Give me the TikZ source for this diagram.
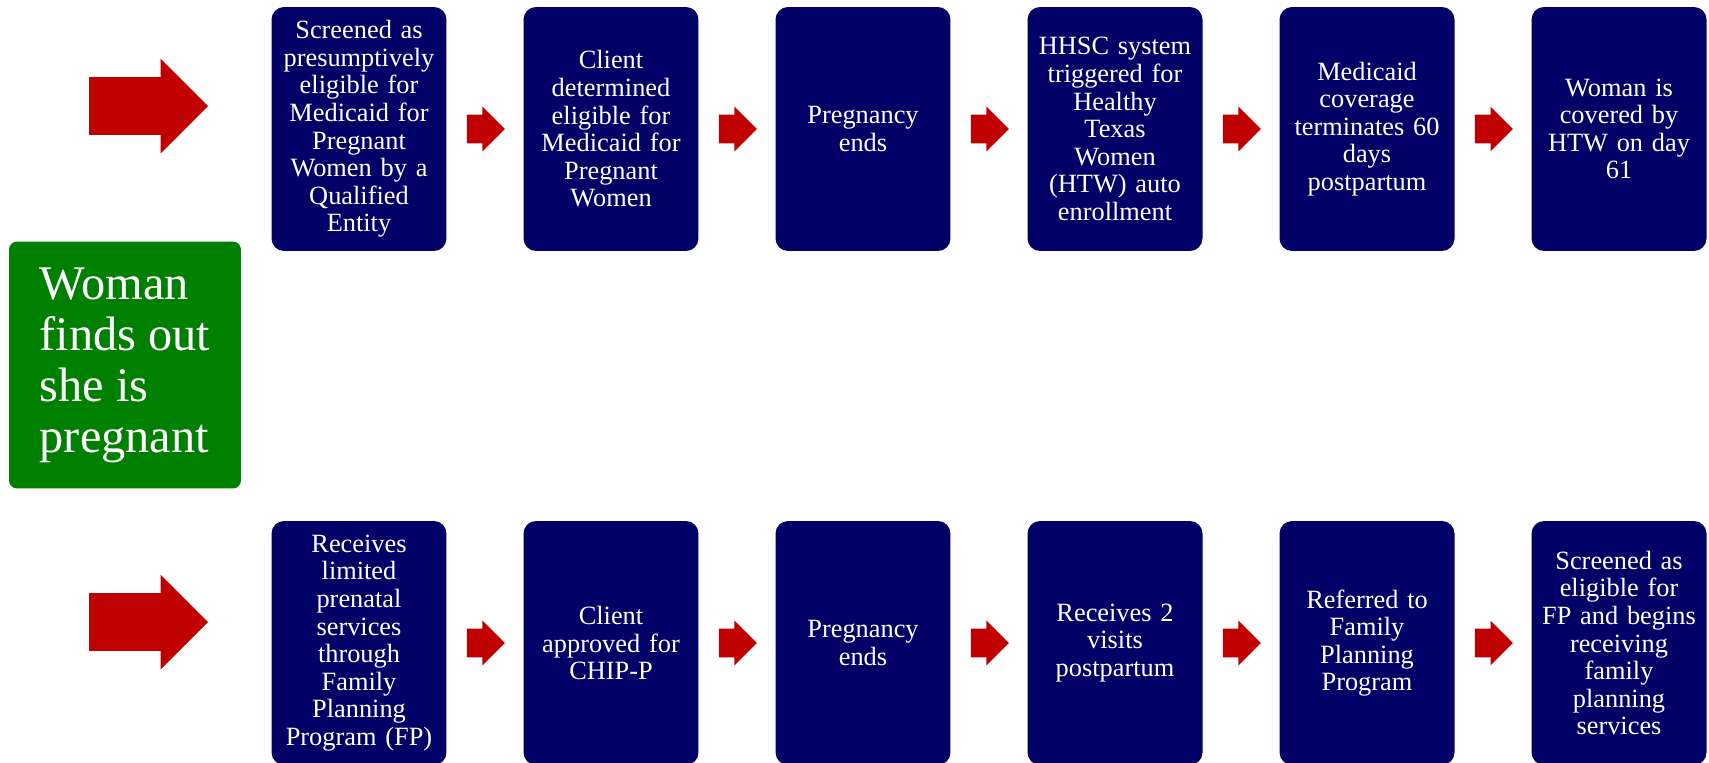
\documentclass[tikz,border=0pt]{standalone}
\usepackage{fontspec}
\setmainfont{Liberation Serif}
\usepackage{tikz}
\usetikzlibrary{
  shapes.arrows,
  calc
}

\definecolor{navybox}{RGB}{0,0,102}
\definecolor{arrowred}{RGB}{192,0,0}
\definecolor{startgreen}{RGB}{0,128,0}

\begin{document}
\begin{tikzpicture}[
  x=0.02cm, y=-0.02cm,
  % Node styles
  stepbox/.style={
    rectangle,
    fill=navybox,
    text=white,
    rounded corners=0.25cm,
    minimum width=3.5cm,
    minimum height=4.88cm,
    text width=3.3cm,
    inner sep=0pt,
    align=center,
    font={\fontsize{15}{15.7}\selectfont},
  },
  startbox/.style={
    rectangle,
    fill=startgreen,
    text=white,
    rounded corners=0.16cm,
    minimum width=4.64cm,
    minimum height=4.94cm,
    inner sep=0pt,
    align=left,
    font={\fontsize{27.5}{29}\selectfont},
  },
  bigarrow/.style={
    single arrow,
    fill=arrowred,
    anchor=tip,
    minimum height=2.38cm,
    single arrow head extend=0.37cm,
    inner xsep=0pt,
    inner ysep=0.57cm,
    outer sep=0pt,
  },
  smallarrow/.style={
    single arrow,
    fill=arrowred,
    anchor=tail,
    minimum height=0.76cm,
    single arrow head extend=0.16cm,
    inner xsep=0pt,
    inner ysep=0.28cm,
    outer sep=0pt,
  },
]
\useasboundingbox (0,0) rectangle (1709,762);

% ── Start ──
\node[startbox] (start) at (125,365) {Woman\\finds out\\she is\\pregnant};
\node[bigarrow] (topstart) at (208,106) {};
\node[bigarrow] (botstart) at (208,622) {};

% ── Row 1: Medicaid path ──
\node[stepbox] (t1) at (359,129) {Screened as\\presumptively\\eligible for\\Medicaid for\\Pregnant\\Women by a\\Qualified\\Entity};
\node[stepbox] (t2) at (611,129) {Client\\determined\\eligible for\\Medicaid for\\Pregnant\\Women};
\node[stepbox] (t3) at (863,129) {Pregnancy\\ends};
\node[stepbox] (t4) at (1115,129) {HHSC system\\triggered for\\Healthy\\Texas\\Women\\(HTW) auto\\enrollment};
\node[stepbox] (t5) at (1367,129) {Medicaid\\coverage\\terminates 60\\days\\postpartum};
\node[stepbox] (t6) at (1619,129) {Woman is\\covered by\\HTW on day\\61};

% ── Row 2: CHIP-P path ──
\node[stepbox] (b1) at (359,643) {Receives\\limited\\prenatal\\services\\through\\Family\\Planning\\Program (FP)};
\node[stepbox] (b2) at (611,643) {Client\\approved for\\CHIP-P};
\node[stepbox] (b3) at (863,643) {Pregnancy\\ends};
\node[stepbox] (b4) at (1115,643) {Receives 2\\visits\\postpartum};
\node[stepbox] (b5) at (1367,643) {Referred to\\Family\\Planning\\Program};
\node[stepbox] (b6) at (1619,643) {Screened as\\eligible for\\FP and begins\\receiving\\family\\planning\\services};

% ── Arrows between steps ──
\node[smallarrow] (ta1) at ($(t1.east)+(20,0)$) {};
\node[smallarrow] (ta2) at ($(t2.east)+(20,0)$) {};
\node[smallarrow] (ta3) at ($(t3.east)+(20,0)$) {};
\node[smallarrow] (ta4) at ($(t4.east)+(20,0)$) {};
\node[smallarrow] (ta5) at ($(t5.east)+(20,0)$) {};

\node[smallarrow] (ba1) at ($(b1.east)+(20,0)$) {};
\node[smallarrow] (ba2) at ($(b2.east)+(20,0)$) {};
\node[smallarrow] (ba3) at ($(b3.east)+(20,0)$) {};
\node[smallarrow] (ba4) at ($(b4.east)+(20,0)$) {};
\node[smallarrow] (ba5) at ($(b5.east)+(20,0)$) {};

\end{tikzpicture}
\end{document}
